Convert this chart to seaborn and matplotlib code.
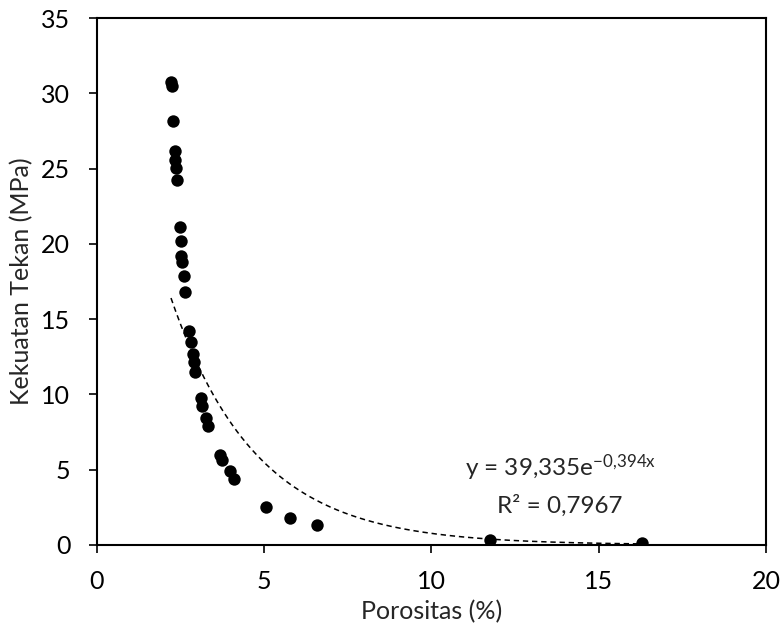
import numpy as np
import pandas as pd
import matplotlib
matplotlib.use("Agg")
import matplotlib.pyplot as plt
import seaborn as sns

# ==========================================
# Data
# ==========================================
porositas = [2.22, 2.24, 2.28, 2.34, 2.35, 2.37, 2.40, 2.49, 2.51, 2.53, 2.55,
             2.60, 2.64, 2.76, 2.83, 2.88, 2.91, 2.95, 3.13, 3.16, 3.28, 3.33,
             3.68, 3.73, 3.98, 4.10, 5.06, 5.78, 6.58, 11.75, 16.29]
kekuatan = [30.75, 30.5, 28.2, 26.15, 25.6, 25.05, 24.25, 21.15, 20.2, 19.2, 18.8,
            17.9, 16.8, 14.2, 13.45, 12.7, 12.15, 11.5, 9.75, 9.2, 8.4, 7.9,
            6.0, 5.65, 4.9, 4.4, 2.5, 1.8, 1.3, 0.33, 0.15]

fit_a = 39.335
fit_b = -0.394
eq_text = r"y = 39,335e$^{-0{,}394x}$"
r2_text = "R² = 0,7967"

# ==========================================
# Styling
# ==========================================
sns.set_style("white")
plt.rcParams['font.family'] = ['Lato', 'DejaVu Sans']
plt.rcParams['mathtext.default'] = 'regular'

df = pd.DataFrame({'Porositas': porositas, 'Kekuatan': kekuatan})

fig, ax = plt.subplots(figsize=(7.8, 6.27), dpi=100)
fig.subplots_adjust(left=0.124, right=0.982, top=0.971, bottom=0.131)

# Exponential trendline across the data range
x_fit = np.linspace(min(porositas), max(porositas), 200)
fit_df = pd.DataFrame({'x': x_fit, 'y': fit_a * np.exp(fit_b * x_fit)})
sns.lineplot(data=fit_df, x='x', y='y', ax=ax, color='black',
             linewidth=1.1, linestyle=(0, (3.5, 2.5)), zorder=2)

sns.scatterplot(data=df, x='Porositas', y='Kekuatan', ax=ax, color='black',
                s=80, edgecolor='black', linewidth=0, zorder=3)

ax.text(13.85, 5.1, eq_text, ha='center', va='center', fontsize=17.5)
ax.text(13.85, 2.6, r2_text, ha='center', va='center', fontsize=17.5)

# --- Axis Formatting ---
ax.set_xlim(0, 20)
ax.set_ylim(0, 35)
ax.set_xticks(range(0, 21, 5))
ax.set_yticks(range(0, 36, 5))
ax.set_xlabel('Porositas (%)', fontsize=18)
ax.set_ylabel('Kekuatan Tekan (MPa)', fontsize=18)
ax.xaxis.set_label_coords(0.5, -0.105)
ax.yaxis.set_label_coords(-0.095, 0.5)
ax.tick_params(axis='both', direction='out', length=6, width=1.2,
               labelsize=18, colors='black', bottom=True, left=True)
ax.tick_params(axis='y', pad=13)
ax.tick_params(axis='x', pad=12)
for sp in ax.spines.values():
    sp.set_visible(True)
    sp.set_color('black')
    sp.set_linewidth(1.5)

fig.savefig('out.png', dpi=100)
